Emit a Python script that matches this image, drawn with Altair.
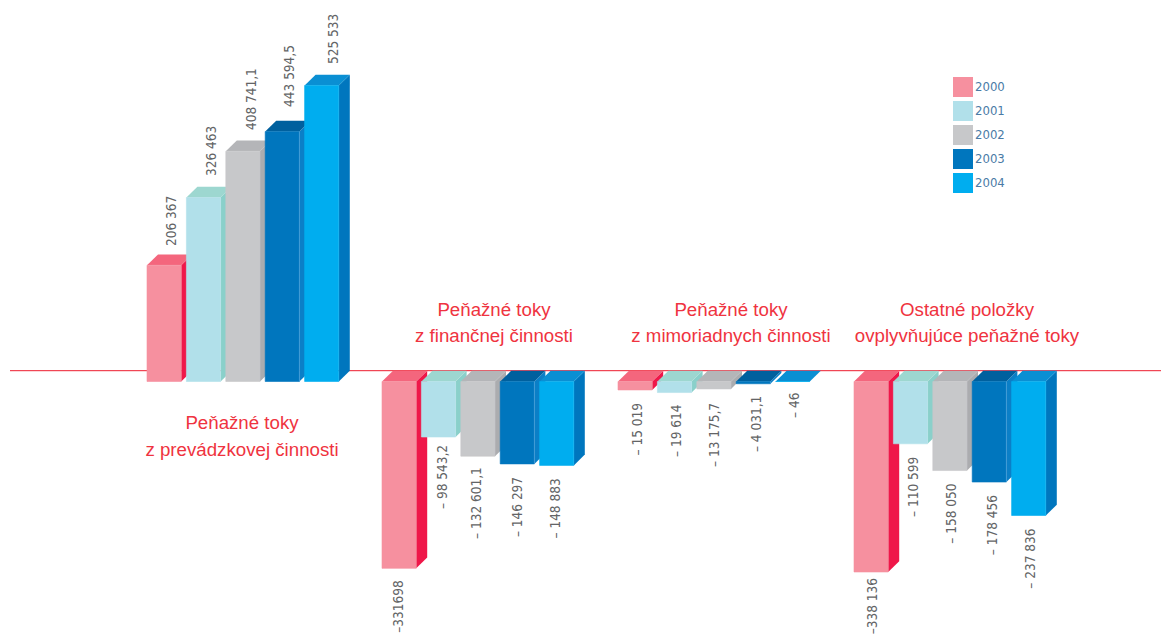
import altair as alt
import pandas as pd

years = ["2000", "2001", "2002", "2003", "2004"]
prevadzkova = [206367, 326463, 408741.1, 443594.5, 525533]
financna = [-331698, -98543.2, -132601.1, -146297, -148883]
mimoriadna = [-15019, -19614, -13175.7, -4031.1, -46]
ostatne = [-338136, -110599, -158050, -178456, -237836]
series = [prevadzkova, financna, mimoriadna, ostatne]

labels = [
    ["206 367", "326 463", "408 741,1", "443 594,5", "525 533"],
    ["–331698", "– 98 543,2", "– 132 601,1", "– 146 297", "– 148 883"],
    ["– 15 019", "– 19 614", "– 13 175,7", "– 4 031,1", "– 46"],
    ["–338 136", "– 110 599", "– 158 050", "– 178 456", "– 237 836"],
]

title_lines = ["Peňažné toky", "z prevádzkovej činnosti",
               "Peňažné toky", "z finančnej činnosti",
               "Peňažné toky", "z mimoriadnych činnosti",
               "Ostatné položky", "ovplyvňujúce peňažné toky"]

front_colors = ["#F6909F", "#B1E0EA", "#C7C8CA", "#0076BE", "#00ADEF"]
side_colors = ["#EF1749", "#8AD0CA", "#ABACAF", "#0B7FC7", "#0076BE"]
top_colors = ["#F4667D", "#9DD7D0", "#B4B5B8", "#00609E", "#0A8FD3"]

# layout
group_left = [147, 382, 618, 854]
step, bar_w, dep_x = 39.4, 34.2, 11
per_px = 1775.0
baseline_page = 381.5
dep_y = 10.8 * per_px
title_x = [242, 242, 494, 494, 731, 731, 967, 967]
title_y = [423, 450, 310, 336, 310, 336, 310, 336]
narrow = "DejaVu Sans Condensed"
label_shift = [[8, 8.5, 9, 8, 12], [0, 4.5, -1, 1, -1], [3, 2.5, 1, 3.7, 2.3], [2, 3.5, 2, 3.7, 2.3]]
label_gap = [[8.4, 10.8, 10.4, 13.9, 10.6], [12, 8, 11, 13, 13], [13, 12, 14, 12, 11], [6, 13, 13, 13, 13]]


def page_y(py):
    return (baseline_page - py) * per_px


fronts, faces, texts = [], [], []
for g, vals in enumerate(series):
    for i, v in enumerate(vals):
        x0 = group_left[g] + i * step
        x1 = x0 + bar_w
        t = max(v, 0)
        b = min(v, 0)
        key = f"{g}-{i}"
        fronts.append({"x0": x0, "x1": x1, "top": t, "bottom": b, "year": years[i]})
        for x, lo, hi in [(x1, b, t), (x1 + dep_x, b + dep_y, t + dep_y)]:
            faces.append({"k": "s" + key, "x": x, "lo": lo, "hi": hi, "c": side_colors[i], "face": "side"})
        for x, lo, hi in [(x0, t, t), (x0 + dep_x, t, t + dep_y), (x1, t, t + dep_y),
                          (x1 + dep_x, t + dep_y, t + dep_y)]:
            faces.append({"k": "t" + key, "x": x, "lo": lo, "hi": hi, "c": top_colors[i], "face": "top"})
        lx = x0 + bar_w / 2 + label_shift[g][i]
        if v > 0:
            texts.append({"x": lx, "y": t + dep_y + label_gap[g][i] * per_px,
                          "label": labels[g][i], "al": "up"})
        else:
            texts.append({"x": lx, "y": b - label_gap[g][i] * per_px,
                          "label": labels[g][i], "al": "down"})

fronts = pd.DataFrame(fronts)
faces = pd.DataFrame(faces)
texts = pd.DataFrame(texts)
titles = pd.DataFrame({"x": title_x, "y": [page_y(p) for p in title_y], "t": title_lines})
zero = pd.DataFrame({"x": [10], "x2": [1161], "y": [dep_y]})

xs = alt.Scale(domain=[8, 1161], nice=False, zero=False)
ys = alt.Scale(domain=[page_y(635), page_y(8)], nice=False, zero=False)
X = lambda f: alt.X(f, type="quantitative", scale=xs, axis=None)
Y = lambda f: alt.Y(f, type="quantitative", scale=ys, axis=None, stack=None)

rule = alt.Chart(zero).mark_rule(color="#ED1C2E", strokeWidth=1).encode(
    x=X("x"), x2="x2", y=Y("y"))


def face_layer(name):
    return alt.Chart(faces[faces.face == name]).mark_area(interpolate="linear", opacity=1).encode(
        x=X("x"), y=Y("hi"), y2="lo",
        fill=alt.Fill("c:N", scale=None),
        detail="k:N")


year_scale = alt.Scale(domain=years, range=front_colors)
front = alt.Chart(fronts).mark_bar(strokeWidth=0.6).encode(
    x=X("x0"), x2="x1", y=Y("top"), y2="bottom",
    color=alt.Color("year:N", scale=year_scale, legend=alt.Legend(
        title=None, orient="none", legendX=945, legendY=69,
        symbolType="square", symbolSize=400, symbolStrokeWidth=0, symbolOpacity=1,
        rowPadding=4, labelFont=narrow, labelFontSize=13,
        labelColor="#4A7BA6", labelOffset=2)),
    stroke=alt.Stroke("year:N", scale=year_scale, legend=None),
)
edge = alt.Chart(fronts[fronts.year == "2003"]).mark_rule(color="#4FA3DA", strokeWidth=0.8).encode(
    x=X("x1"), y=Y("top"), y2="bottom")

label_font = dict(font=narrow, fontSize=13.5, color="#636466", angle=270, baseline="middle")
up = alt.Chart(texts[texts.al == "up"]).mark_text(align="left", **label_font).encode(
    x=X("x"), y=Y("y"), text="label:N")
down = alt.Chart(texts[texts.al == "down"]).mark_text(align="right", **label_font).encode(
    x=X("x"), y=Y("y"), text="label:N")
title_text = alt.Chart(titles).mark_text(
    font="Liberation Sans", fontSize=18.7, color="#EF3340", align="center", baseline="middle").encode(
    x=X("x"), y=Y("y"), text="t:N")

chart = alt.layer(rule, face_layer("side"), face_layer("top"), front, edge, up, down, title_text).properties(
    width=1153, height=627, padding=0, autosize=alt.AutoSizeParams(type="none"),
).configure_view(stroke=None)

chart.save("out.html", embed_options={"renderer": "svg", "actions": False})
